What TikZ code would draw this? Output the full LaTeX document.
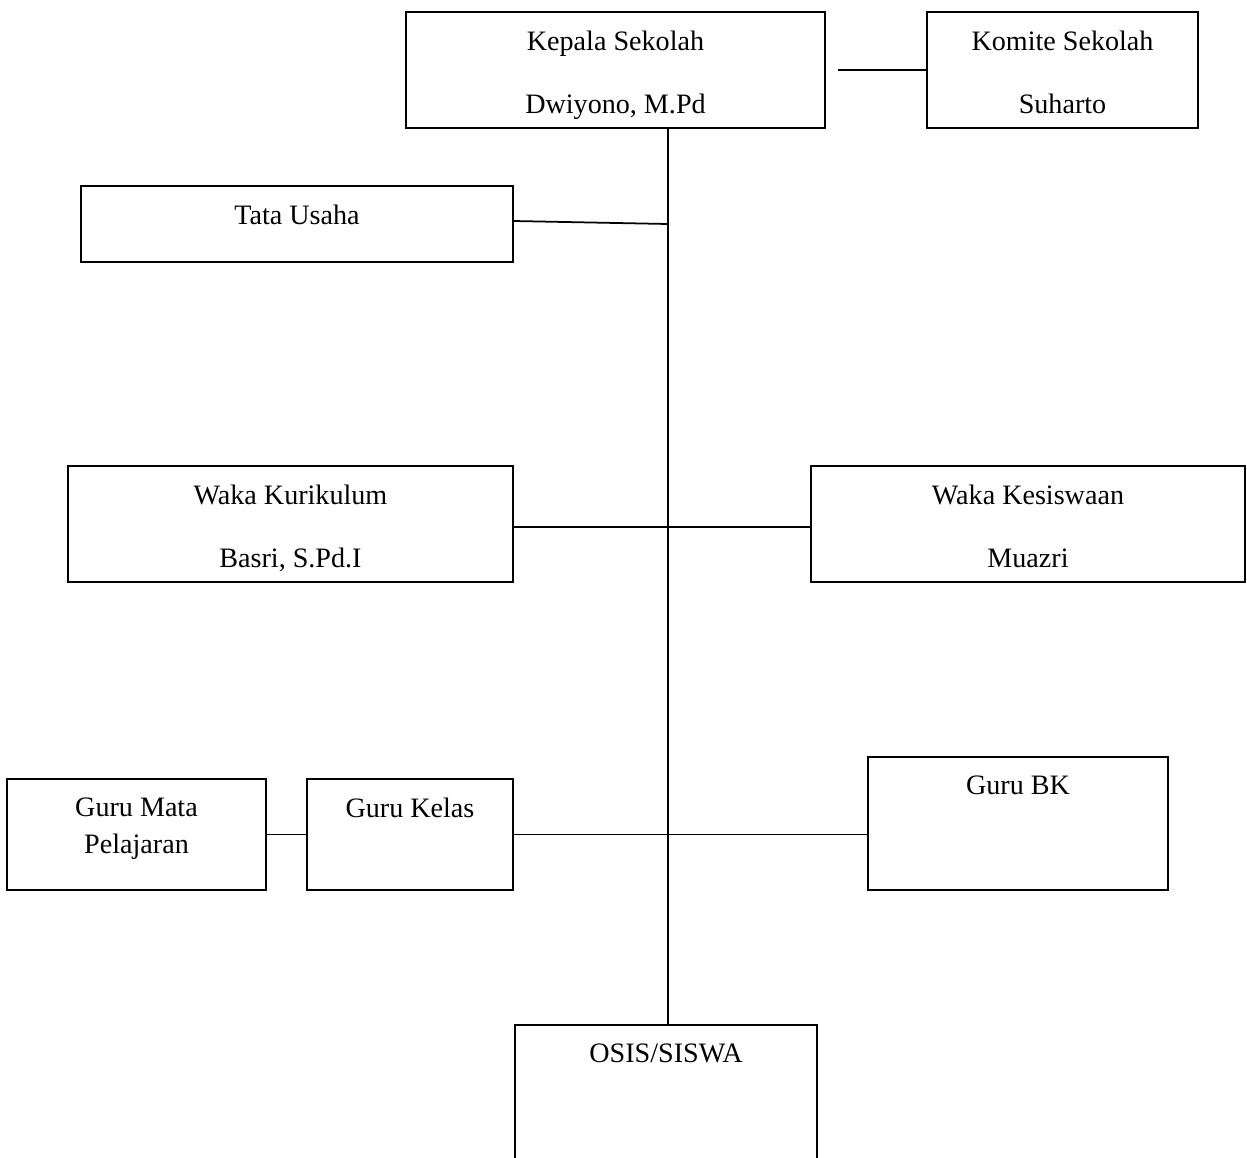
\documentclass[tikz,border=0pt]{standalone}
\usepackage{fontspec}
\setmainfont{Liberation Serif}
\usetikzlibrary{positioning}
\tikzset{kotak/.style 2 args={
        draw, line width=1pt,
        minimum width=#1, minimum height=#2,
        inner sep=0pt
    },
    teks/.style={
        inner sep=0pt, align=center,
        font=\fontsize{16}{35.7}\selectfont
    },
    garis/.style={line width=1pt}
}

\begin{document}
\begin{tikzpicture}
    \useasboundingbox (0,0) rectangle (24.94,-23.14);
    % Boxes
    \node[kotak={8.38cm}{2.32cm}] (KS) at (12.31,-1.40) {};
    \node[kotak={5.42cm}{2.32cm}] (KM) at (21.25,-1.40) {};
    \node[kotak={8.64cm}{1.52cm}] (TU) at (5.94,-4.48) {};
    \node[kotak={8.90cm}{2.32cm}] (WK) at (5.81,-10.48) {};
    \node[kotak={8.68cm}{2.32cm}] (WS) at (20.56,-10.48) {};
    \node[kotak={5.18cm}{2.22cm}] (GM) at (2.73,-16.69) {};
    \node[kotak={4.12cm}{2.22cm}] (GK) at (8.20,-16.69) {};
    \node[kotak={6.00cm}{2.66cm}] (BK) at (20.36,-16.47) {};
    \node[kotak={6.04cm}{2.90cm}] (OS) at (13.32,-21.95) {};
    % Texts
    \node[teks, below=0.39cm of KS.north] (tKS) {Kepala Sekolah\\Dwiyono, M.Pd};
    \node[teks, below=0.39cm of KM.north] (tKM) {Komite Sekolah\\Suharto};
    \node[teks, below=0.39cm of TU.north] (tTU) {Tata Usaha};
    \node[teks, below=0.39cm of WK.north] (tWK) {Waka Kurikulum\\Basri, S.Pd.I};
    \node[teks, below=0.39cm of WS.north] (tWS) {Waka Kesiswaan\\Muazri};
    \node[teks, font=\fontsize{16}{21}\selectfont,
        below=0.39cm of GM.north] (tGM) {Guru Mata\\Pelajaran};
    \node[teks, below=0.39cm of GK.north] (tGK) {Guru Kelas};
    \node[teks, below=0.39cm of BK.north] (tBK) {Guru BK};
    \node[teks, below=0.39cm of OS.north] (tOS) {OSIS/SISWA};
    % Lines
    \coordinate (S) at (13.36,-2.56);
    \coordinate (O) at (13.36,-20.50);
    \coordinate (K) at (16.76,-1.40);
    \draw[garis] (S) -- (O);
    \draw[garis] (K) -- (KM.west);
    \draw[garis] ([yshift=0.06cm]TU.east) -- (TU.east -| S);
    \draw[garis] ([yshift=-0.06cm]WK.east) -- ([yshift=-0.06cm]WS.west);
    \draw[garis] (GM.east) -- (GK.west);
    \draw[garis] (GK.east) -- (GK.east -| BK.west);
\end{tikzpicture}
\end{document}
